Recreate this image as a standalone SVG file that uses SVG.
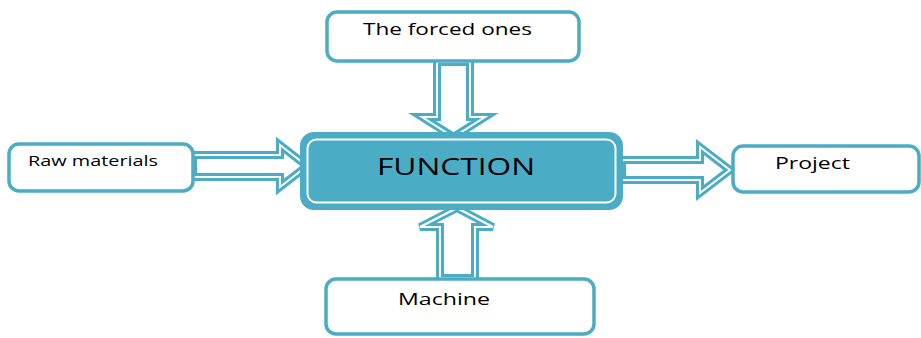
<svg xmlns="http://www.w3.org/2000/svg" width="921" height="338" viewBox="0 0 921 338">
<style>
.box{fill:#fff;stroke:#4BACC6;stroke-width:3.5}
.arr-o{fill:#fff;stroke:#4BACC6;stroke-width:8;stroke-linejoin:miter}
.arr-i{fill:none;stroke:#fff;stroke-width:2;stroke-linejoin:miter}
.t{font-family:"Open Sans","Liberation Sans",sans-serif;fill:#000}
</style>
<rect width="921" height="338" fill="#fff"/>
<g id="connectors">
<g id="arrow-top">
<path class="arr-o" d="M437,62 L437,117 L422,117 L453.5,137 L485,117 L470,117 L470,62 Z"/>
<path class="arr-i" d="M437,62 L437,117 L422,117 L453.5,137 L485,117 L470,117 L470,62 Z"/>
</g>
<g id="arrow-left">
<path class="arr-o" d="M193,155 L280,155 L280,145 L307,166 L280,187 L280,177 L193,177 Z"/>
<path class="arr-i" d="M193,155 L280,155 L280,145 L307,166 L280,187 L280,177 L193,177 Z"/>
</g>
<g id="arrow-right">
<path class="arr-o" d="M622,160 L700,160 L700,147 L730,170 L700,193 L700,180 L622,180 Z"/>
<path class="arr-i" d="M622,160 L700,160 L700,147 L730,170 L700,193 L700,180 L622,180 Z"/>
</g>
<g id="arrow-bottom">
<path class="arr-o" d="M440,278 L440,227 L420,227 L457,208 L493,227 L475,227 L475,278 Z"/>
<path class="arr-i" d="M440,278 L440,227 L420,227 L457,208 L493,227 L475,227 L475,278 Z"/>
</g>
</g>
<g id="node-forced">
<rect class="box" x="327" y="12" width="252" height="49" rx="10"/>
<text class="t" x="363" y="35" font-size="17" textLength="169" lengthAdjust="spacingAndGlyphs">The forced ones</text>
</g>
<g id="node-raw">
<rect class="box" x="9" y="144" width="184" height="47" rx="10"/>
<text class="t" x="28" y="166" font-size="14" textLength="130" lengthAdjust="spacingAndGlyphs">Raw materials</text>
</g>
<g id="node-function">
<rect x="302" y="134" width="319" height="74" rx="12" fill="#4BACC6" stroke="#4BACC6" stroke-width="4"/>
<rect x="307.5" y="139.5" width="308" height="63" rx="9" fill="#4BACC6" stroke="#fff" stroke-width="2"/>
<text class="t" x="377" y="175" font-size="24" textLength="158" lengthAdjust="spacingAndGlyphs">FUNCTION</text>
</g>
<g id="node-project">
<rect class="box" x="733" y="146" width="186" height="46" rx="10"/>
<text class="t" x="775" y="169" font-size="16" textLength="75" lengthAdjust="spacingAndGlyphs">Project</text>
</g>
<g id="node-machine">
<rect class="box" x="326" y="279" width="268" height="55" rx="10"/>
<text class="t" x="398" y="305" font-size="17" textLength="92" lengthAdjust="spacingAndGlyphs">Machine</text>
</g>
</svg>
